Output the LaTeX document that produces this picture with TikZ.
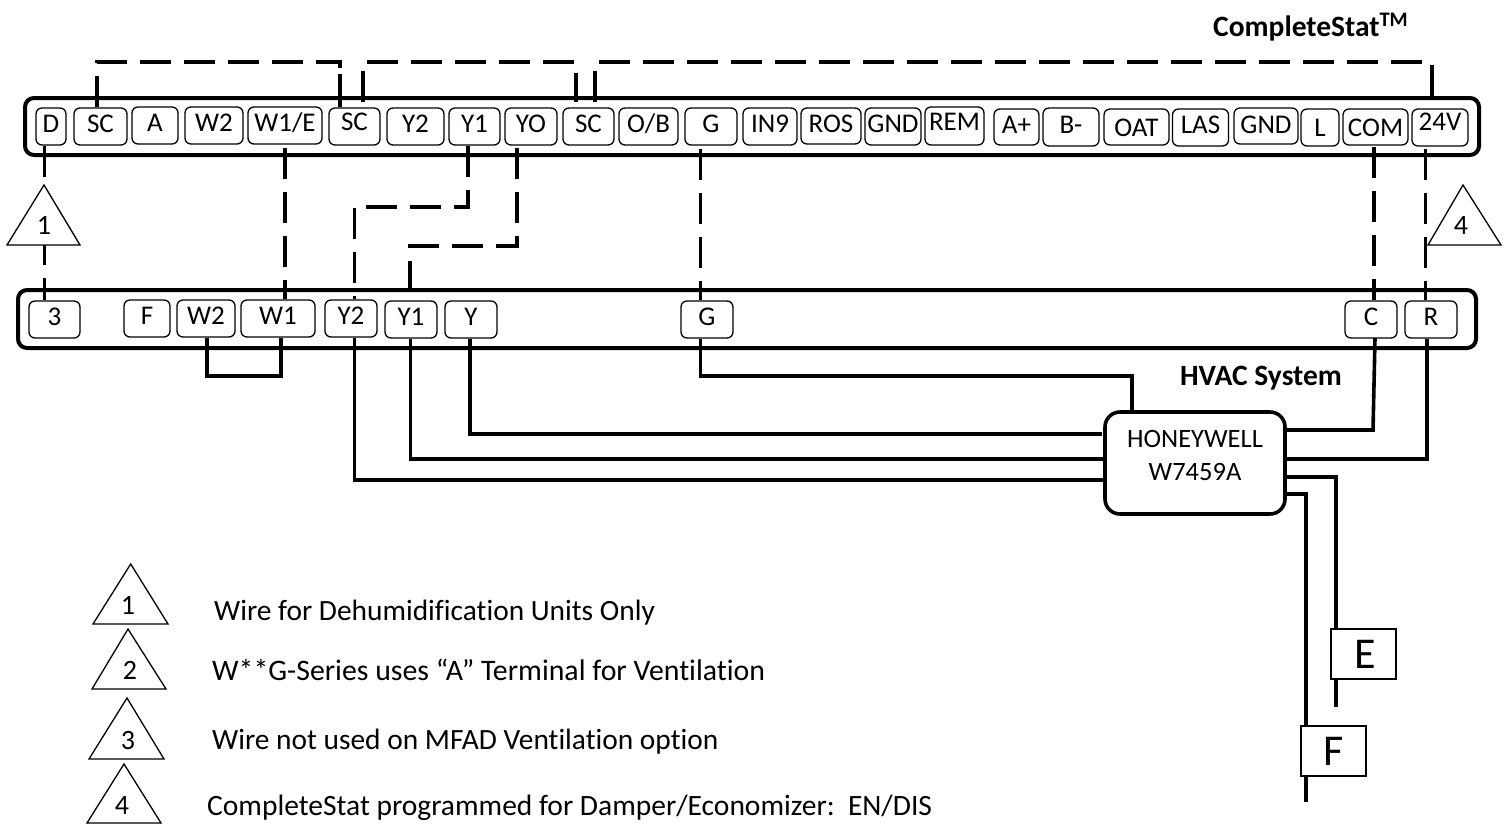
\documentclass[tikz,border=0pt]{standalone}
\usepackage{fontspec}
\setmainfont[Ligatures=CommonOff]{Carlito}
\usetikzlibrary{calc}
\tikzset{
 x=1pt,y=-1pt,
 bar/.style={draw,line width=4pt,rounded corners=9pt},
 term/.style={draw,line width=1.3pt,rounded corners=6pt,inner sep=0pt,text height=12pt,text depth=0pt,align=center,font=\fontsize{27}{30}\selectfont},
 wire/.style={line width=3.6pt,line join=miter},
 dwire/.style={wire,dash pattern=on 31pt off 13pt},
 tri/.style={draw,line width=1.3pt,fill=white,line join=miter},
 triText/.style={inner sep=0pt,font=\fontsize{28}{30}\selectfont},
 legendText/.style={anchor=base west,inner sep=0pt,font=\fontsize{29.4}{32}\selectfont},
 title/.style={font=\fontsize{29.5}{32}\selectfont\bfseries,inner sep=0pt},
 bigbox/.style={draw,line width=1.6pt,inner sep=0pt,fill=white,font=\fontsize{44}{48}\selectfont}
}
% name, x1, y1, x2, y2, raise, text
\newcommand{\Term}[7]{\node[term,minimum width=#4pt-#2pt,minimum height=#5pt-#3pt] (#1) at ({(#2+#4)/2},{(#3+#5)/2}) {\raisebox{#6pt}{#7}};}
% name, apex x, apex y, left x, right x, base y, text x, text y, text
\newcommand{\Tri}[9]{\draw[tri] (#2,#3) -- (#4,#6) -- (#5,#6) -- cycle; \node[triText] (#1) at (#7,#8) {#9};}
\begin{document}
\begin{tikzpicture}
\useasboundingbox (0,0) rectangle (1507,823);
\fontsize{26.5}{30}\selectfont
% bars
\node[bar,minimum width=1454pt,minimum height=57pt,inner sep=0pt] (topbar) at (752,126.5) {};
\node[bar,minimum width=1458pt,minimum height=58pt,inner sep=0pt] (lowbar) at (747,319) {};
% top terminals
\Term{tD}{36}{108}{66}{145}{0}{D}
\Term{tSCa}{74}{108}{127}{145}{0}{SC}
\Term{tA}{132}{107}{178}{144}{0}{A}
\Term{tWb}{185}{107}{243}{144}{0}{W2}
\Term{tWa}{248}{107}{322}{144}{0}{W1/E}
\Term{tSCb}{329}{108}{380}{145}{2}{SC}
\Term{tYb}{387}{108}{444}{145}{0}{Y2}
\Term{tYa}{449}{108}{500}{145}{0}{Y1}
\Term{tYO}{505}{108}{557}{145}{0}{YO}
\Term{tSCc}{563}{108}{614}{145}{0}{SC}
\Term{tOB}{619}{108}{678}{145}{0}{O/B}
\Term{tG}{685}{108}{737}{145}{0}{G}
\Term{tIN}{743}{108}{797}{145}{0}{IN9}
\Term{tROS}{801}{108}{861}{144}{0}{ROS}
\Term{tGa}{865}{108}{921}{145}{0}{GND}
\Term{tREM}{925}{107}{984}{145}{2}{REM}
\Term{tAp}{994}{109}{1039}{145}{0}{A+}
\Term{tBm}{1043}{108}{1099}{146}{0}{B-}
\Term{tOAT}{1104}{109}{1169}{145}{-3}{OAT}
\Term{tLAS}{1172.5}{109}{1228.5}{146}{0}{LAS}
\Term{tGb}{1234}{108}{1298}{144}{-1}{GND}
\Term{tL}{1301}{109}{1339}{146}{-3}{L}
\Term{tCOM}{1343}{109}{1408}{145}{-3}{COM}
\Term{tV}{1412}{109}{1468}{146}{3}{24V}
% bottom terminals
\Term{b3}{29}{301}{80}{338}{0}{3}
\Term{bF}{124}{300}{170}{337}{0}{F}
\Term{bWb}{177}{300}{235}{337}{0}{W2}
\Term{bWa}{241}{300}{315}{337}{0}{W1}
\Term{bYb}{325}{300}{377}{337}{0}{Y2}
\Term{bYa}{385}{301}{437}{338}{0}{Y1}
\Term{bY}{445}{301}{497}{338}{0}{Y}
\Term{bG}{681}{301}{733}{338}{0}{G}
\Term{bC}{1345}{301}{1397}{338}{0}{C}
\Term{bR}{1405}{301}{1457}{338}{0}{R}
% central box
\node[draw,line width=3.6pt,rounded corners=15pt,minimum width=180pt,minimum height=102pt,inner sep=0pt,align=center] (hw) at (1195,463) {};
\node[inner sep=0pt] (hwa) at (1195,439) {HONEYWELL};
\node[inner sep=0pt] (hwb) at (1195,472) {W7459A};
% E F
\node[bigbox,minimum width=65pt,minimum height=50pt] (E) at (1363.5,654) {\hspace{3pt}E};
\node[bigbox,minimum width=65pt,minimum height=50pt] (F) at (1333.5,751) {F};
\coordinate (Eend) at (1336,707);
\coordinate (Fend) at (1306,802);
% dashed wires
\draw[dwire] (97,0 |- tSCa.north) -- (97,62) -- (340,62) -- (340,68);
\draw[wire] (340,74) -- (340,0 |- tSCb.north);
\draw[dwire] ($(363,0 |- topbar.north)+(0,6)$) -- (363,62) -- (576,62) -- ($(576,0 |- topbar.north)+(0,6)$);
\draw[dwire] ($(595,0 |- topbar.north)+(0,6)$) -- (595,62) -- (1432,62) -- (1432,0 |- topbar.north);
\draw[dwire] (44.5,0 |- tD.south) -- (44.5,0 |- b3.north);
\draw[dwire] ($(285,0 |- tWa.south)+(0,3)$) -- (285,0 |- bWa.north);
\draw[dwire] (468,0 |- tYa.south) -- (468,207) -- (354.5,207) -- (354.5,0 |- bYb.north);
\draw[dwire] ($(517,0 |- tYO.south)+(0,2.5)$) -- (517,246) -- (410,246) -- (410,0 |- lowbar.north);
\draw[dwire] ($(700.5,0 |- tG.south)+(0,3)$) -- (700.5,0 |- bG.north);
\draw[dwire] ($(1374,0 |- tCOM.south)+(0,1)$) -- (1374,0 |- bC.north);
\draw[dwire] ($(1425.5,0 |- tV.south)+(0,2)$) -- (1425.5,0 |- bR.north);
% solid wires
\draw[wire] (206.7,0 |- bWb.south) -- (206.7,376) -- (281,376) -- (281,0 |- bWa.south);
\draw[wire] (700.5,0 |- bG.south) -- (700.5,376) -- (1132,376) -- (1132,0 |- hw.north);
\draw[wire] (470,0 |- bY.south) -- (470,434) -- (1102,434);
\draw[wire] (410.5,0 |- bYa.south) -- (410.5,459) -- (1105,459);
\draw[wire] (354.5,0 |- bYb.south) -- (354.5,480) -- (1105,480);
\draw[wire] (1285,430) -- (1373,430) -- (1375,338);
\draw[wire] (1285,459) -- (1426.7,459) -- (1426.7,0 |- bR.south);
\draw[wire] (1285,477) -- (1336,477) -- (1336,0 |- E.north);
\draw[wire] (1336,0 |- E.south) -- (Eend);
\draw[wire] (1285,494) -- (1306,494) -- (1306,0 |- F.north);
\draw[wire] (1306,0 |- F.south) -- (Fend);
% triangles on the wires
\Tri{triA}{44}{185}{7}{80}{245}{44}{225}{1}
\Tri{triD}{1463}{185}{1428}{1501}{245}{1461}{226}{4}
% titles
\node[title] (hvac) at (1261,378) {HVAC System};
\node[title,anchor=base west] (cs) at (1213,36) {CompleteStat\textsuperscript{TM}};
% legend
\Tri{la}{130.7}{564}{93}{168}{624}{128}{605}{1}
\Tri{lb}{128}{629}{92}{166}{689}{130}{670}{2}
\Tri{lc}{127}{698}{89}{164}{759}{128}{740}{3}
\Tri{ld}{124}{764}{87}{161}{823}{122}{805}{4}
\node[legendText] (ta) at (214,620) {Wire for Dehumidification Units Only};
\node[legendText,font=\fontsize{29.8}{32}\selectfont] (tb) at (212,680) {W**G-Series uses “A” Terminal for Ventilation};
\node[legendText] (tc) at (212,749) {Wire not used on MFAD Ventilation option};
\node[legendText,font=\fontsize{29.5}{32}\selectfont] (td) at (207,815) {CompleteStat programmed for Damper/Economizer:\ \ EN/DIS};
\end{tikzpicture}
\end{document}
